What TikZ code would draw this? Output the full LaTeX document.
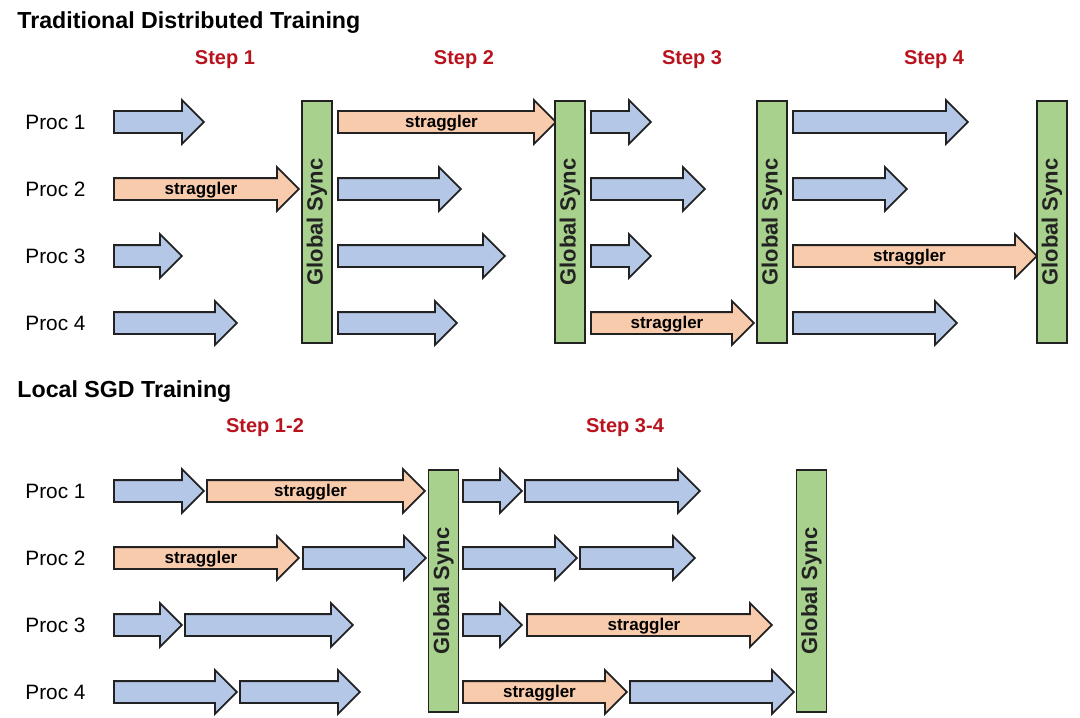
\documentclass[tikz,border=0pt]{standalone}
\usepackage{fontspec}
\setmainfont{Liberation Sans}
\usetikzlibrary{shapes.arrows}

\definecolor{workblue}{RGB}{180,199,231}
\definecolor{slowpeach}{RGB}{248,203,173}
\definecolor{syncgreen}{RGB}{169,209,142}
\definecolor{stepred}{RGB}{185,20,30}
\definecolor{edgegray}{RGB}{34,34,34}

\begin{document}
\begin{tikzpicture}[
  x=0.5pt, y=-0.5pt,
  work/.style={single arrow, draw=edgegray, line width=0.9pt, fill=workblue,
               anchor=tail, single arrow head extend=5.5pt,
               text height=6.5pt, text depth=1.5pt, inner ysep=1pt, inner xsep=0pt,
               font=\bfseries\fontsize{8.5}{8.5}\selectfont},
  slow/.style={work, fill=slowpeach},
  len/.style={minimum height=#1*0.5pt},
  sync/.style={rectangle, draw=edgegray, line width=0.9pt, fill=syncgreen,
               rotate=90, minimum width=121pt, minimum height=15pt, inner sep=0pt,
               text=edgegray, font=\bfseries\fontsize{11}{11}\selectfont},
  proc/.style={anchor=west, inner sep=0pt, font=\fontsize{10.4}{10.4}\selectfont},
  steplabel/.style={inner sep=0pt, text=stepred, font=\bfseries\fontsize{10}{10}\selectfont},
  title/.style={anchor=west, inner sep=0pt, font=\bfseries\fontsize{11.6}{11.6}\selectfont}
]
  \useasboundingbox (0,0) rectangle (1080,717);

  % traditional distributed training
  \node[title] (ttitle) at (17,23) {Traditional Distributed Training};
  \node[steplabel] (ts1) at (225,60) {Step 1};
  \node[steplabel] (ts2) at (464,60) {Step 2};
  \node[steplabel] (ts3) at (692,60) {Step 3};
  \node[steplabel] (ts4) at (934,60) {Step 4};

  \node[proc] (tp1) at (25,122) {Proc 1};
  \node[proc] (tp2) at (25,189) {Proc 2};
  \node[proc] (tp3) at (25,256) {Proc 3};
  \node[proc] (tp4) at (25,323) {Proc 4};

  \node[work, len=90]  (t11) at (113,122) {};
  \node[slow, len=185] (t21) at (113,189) {straggler};
  \node[work, len=68]  (t31) at (113,256) {};
  \node[work, len=123] (t41) at (113,323) {};
  \node[sync] (tsync1) at (317,222) {Global Sync};

  \node[slow, len=218] (t12) at (337,122) {straggler};
  \node[work, len=123] (t22) at (337,189) {};
  \node[work, len=167] (t32) at (337,256) {};
  \node[work, len=119] (t42) at (337,323) {};
  \node[sync] (tsync2) at (570,222) {Global Sync};

  \node[work, len=60]  (t13) at (590,122) {};
  \node[work, len=114] (t23) at (590,189) {};
  \node[work, len=60]  (t33) at (590,256) {};
  \node[slow, len=163] (t43) at (590,323) {straggler};
  \node[sync] (tsync3) at (772,222) {Global Sync};

  \node[work, len=175] (t14) at (792,122) {};
  \node[work, len=114] (t24) at (792,189) {};
  \node[slow, len=244] (t34) at (792,256) {straggler};
  \node[work, len=164] (t44) at (792,323) {};
  \node[sync] (tsync4) at (1052,222) {Global Sync};

  % local sgd training
  \node[title] (ltitle) at (17,392) {Local SGD Training};
  \node[steplabel] (ls12) at (265,428) {Step 1-2};
  \node[steplabel] (ls34) at (625,428) {Step 3-4};

  \node[proc] (lp1) at (25,491) {Proc 1};
  \node[proc] (lp2) at (25,558) {Proc 2};
  \node[proc] (lp3) at (25,625) {Proc 3};
  \node[proc] (lp4) at (25,692) {Proc 4};

  \node[work, len=90]  (l11a) at (113,491) {};
  \node[slow, len=218] (l11b) at (206,491) {straggler};
  \node[slow, len=185] (l21a) at (113,558) {straggler};
  \node[work, len=123] (l21b) at (302,558) {};
  \node[work, len=68]  (l31a) at (113,625) {};
  \node[work, len=168] (l31b) at (184,625) {};
  \node[work, len=123] (l41a) at (113,692) {};
  \node[work, len=120] (l41b) at (239,692) {};
  \node[sync] (lsync1) at (443.5,591) {Global Sync};

  \node[work, len=59]  (l13a) at (462,491) {};
  \node[work, len=175] (l13b) at (524,491) {};
  \node[work, len=114] (l23a) at (462,558) {};
  \node[work, len=115] (l23b) at (579,558) {};
  \node[work, len=59]  (l33a) at (462,625) {};
  \node[slow, len=245] (l33b) at (526,625) {straggler};
  \node[slow, len=164] (l43a) at (462,692) {straggler};
  \node[work, len=164] (l43b) at (629,692) {};
  \node[sync] (lsync2) at (811.5,591) {Global Sync};
\end{tikzpicture}
\end{document}
